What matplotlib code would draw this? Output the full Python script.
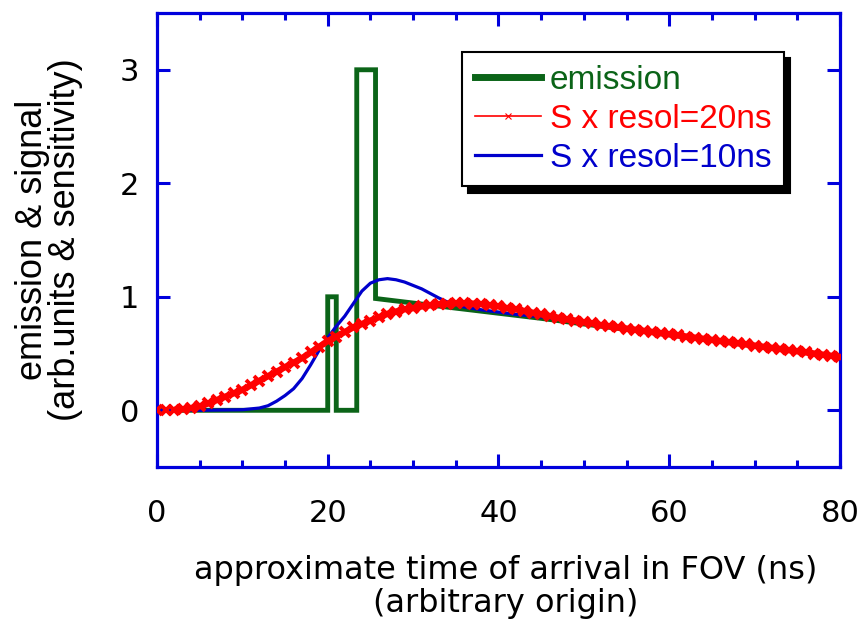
"""Emission profile and resolution-smeared signal vs arrival time."""

import matplotlib
matplotlib.use("Agg")
import matplotlib.pyplot as plt
from matplotlib.lines import Line2D
from matplotlib.ticker import MultipleLocator

# emission (step profile), x in ns
emission_t = [0, 20, 20, 21, 21, 23.4, 23.4, 25.6, 25.6, 30, 35, 40, 45, 50, 60, 70, 80]
emission_v = [0, 0, 1, 1, 0, 0, 3, 3, 0.985, 0.945, 0.90, 0.855, 0.81, 0.76, 0.665, 0.57, 0.47]

# S x resol = 10 ns
blue_t = [0, 5, 10, 12, 13, 14, 15, 16, 17, 18, 19, 20, 21, 22, 23, 24, 25, 26, 27, 28,
          29, 30, 31, 32, 33, 34, 35, 36, 38, 40, 42, 44, 46, 50, 60, 70, 80]
blue_v = [0, 0, 0.005, 0.02, 0.04, 0.08, 0.13, 0.19, 0.28, 0.40, 0.53, 0.64, 0.74, 0.83,
          0.94, 1.05, 1.12, 1.15, 1.16, 1.15, 1.13, 1.10, 1.07, 1.03, 0.99, 0.955, 0.93,
          0.91, 0.885, 0.865, 0.845, 0.83, 0.815, 0.77, 0.665, 0.57, 0.47]

# S x resol = 20 ns, one point per ns
red_t = list(range(0, 81))
red_v = [0.00, 0.00, 0.005, 0.01, 0.02, 0.035, 0.06, 0.09, 0.12, 0.15,
         0.18, 0.22, 0.26, 0.30, 0.34, 0.38, 0.42, 0.46, 0.51, 0.56,
         0.61, 0.65, 0.69, 0.73, 0.76, 0.79, 0.82, 0.85, 0.87, 0.89,
         0.90, 0.915, 0.925, 0.935, 0.94, 0.943, 0.943, 0.94, 0.935, 0.925,
         0.915, 0.90, 0.89, 0.875, 0.86, 0.845, 0.83, 0.815, 0.80, 0.79,
         0.775, 0.765, 0.75, 0.74, 0.73, 0.72, 0.71, 0.70, 0.69, 0.68,
         0.67, 0.66, 0.65, 0.64, 0.63, 0.62, 0.61, 0.60, 0.59, 0.58,
         0.57, 0.56, 0.55, 0.54, 0.53, 0.52, 0.51, 0.50, 0.49, 0.48, 0.47]

x_ticks = [0, 20, 40, 60, 80]
y_ticks = [0, 1, 2, 3]

GREEN = "#0b6418"
BLUE = "#0000cc"
SPINE = "#0000dd"

fig = plt.figure(figsize=(8.63, 6.32), dpi=100)
ax = fig.add_axes([0.1819, 0.261, 0.7914, 0.7184])

ax.plot(emission_t, emission_v, color=GREEN, lw=3.5, solid_joinstyle="miter", zorder=2)
ax.plot(blue_t, blue_v, color=BLUE, lw=2.3, zorder=3)
# thick band under the markers, then the x markers themselves
ax.plot(red_t[2:], red_v[2:], color="red", lw=4.5, solid_capstyle="butt", zorder=4)
ax.plot(red_t, red_v, color="red", lw=1, ls="none", marker="x", ms=7.5, mew=2.8, zorder=4)

ax.set_xlim(0, 80)
ax.set_ylim(-0.5, 3.5)
ax.set_xticks(x_ticks)
ax.set_yticks(y_ticks)
ax.xaxis.set_minor_locator(MultipleLocator(5))

for s in ax.spines.values():
    s.set_color(SPINE)
    s.set_linewidth(2.3)

ax.tick_params(which="both", direction="in", color=SPINE, width=2.2,
               top=True, right=True, labelsize=22)
ax.tick_params(which="major", length=9.5)
ax.tick_params(which="minor", length=5)
ax.tick_params(axis="x", pad=23)
ax.tick_params(axis="y", pad=13)
for lab in ax.get_xticklabels() + ax.get_yticklabels():
    lab.set_family("DejaVu Sans")

ax.set_xlabel("approximate time of arrival in FOV (ns)\n(arbitrary origin)",
              fontsize=23, family="DejaVu Sans", linespacing=1.1)
ax.xaxis.set_label_coords(0.51, -0.193)
ax.set_ylabel("emission & signal\n(arb.units & sensitivity)",
              fontsize=26, family="Liberation Sans", linespacing=0.95)
ax.yaxis.set_label_coords(-0.108, 0.5)

handles = [
    Line2D([], [], color=GREEN, lw=5),
    Line2D([], [], color="red", lw=1.2, marker="x", ms=5, mew=0.8),
    Line2D([], [], color=BLUE, lw=2.3),
]
labels = ["emission", "S x resol=20ns", "S x resol=10ns"]
leg = fig.legend(handles, labels, loc="upper left",
                 bbox_to_anchor=(462 / 863, 1 - 52 / 632),
                 prop={"family": "Liberation Sans", "size": 24},
                 handlelength=2.0, handletextpad=0.25, labelspacing=0.24,
                 borderpad=0.38, borderaxespad=0, fancybox=False,
                 shadow={"ox": 4.5, "oy": -4.5, "color": "black", "alpha": 1})
leg.get_frame().set_edgecolor("black")
leg.get_frame().set_linewidth(1.5)
for txt, c in zip(leg.get_texts(), [GREEN, "red", BLUE]):
    txt.set_color(c)

fig.savefig("out.png", dpi=100)
